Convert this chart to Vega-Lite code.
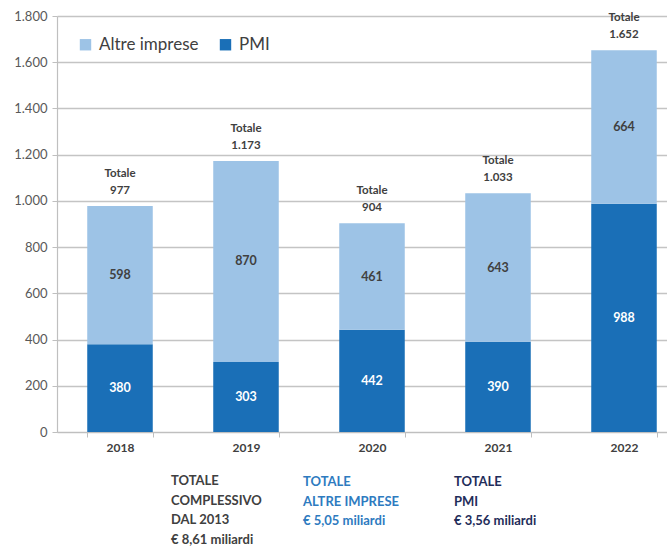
{
  "$schema": "https://vega.github.io/schema/vega-lite/v6.json",
  "autosize": {"type": "none"},
  "padding": {"left": 57, "top": 16, "right": 0, "bottom": 114},
  "width": 610,
  "height": 416,
  "background": "white",
  "config": {
    "view": {"stroke": null},
    "font": "Lato",
    "locale": {"number": {"decimal": ",", "thousands": ".", "grouping": [3], "currency": ["€", ""]}}
  },
  "datasets": {
    "segmenti": [
      {"anno": "2018", "tipo": "PMI", "v": 380},
      {"anno": "2018", "tipo": "Altre imprese", "v": 598},
      {"anno": "2019", "tipo": "PMI", "v": 303},
      {"anno": "2019", "tipo": "Altre imprese", "v": 870},
      {"anno": "2020", "tipo": "PMI", "v": 442},
      {"anno": "2020", "tipo": "Altre imprese", "v": 461},
      {"anno": "2021", "tipo": "PMI", "v": 390},
      {"anno": "2021", "tipo": "Altre imprese", "v": 643},
      {"anno": "2022", "tipo": "PMI", "v": 988},
      {"anno": "2022", "tipo": "Altre imprese", "v": 664}
    ],
    "totali": [
      {"anno": "2018", "tot": 977},
      {"anno": "2019", "tot": 1173},
      {"anno": "2020", "tot": 904},
      {"anno": "2021", "tot": 1033},
      {"anno": "2022", "tot": 1652}
    ],
    "nota1": [{"anno": "2019", "righe": ["TOTALE", "COMPLESSIVO", "DAL 2013", "€ 8,61 miliardi"]}],
    "nota2": [{"anno": "2020", "righe": ["TOTALE", "ALTRE IMPRESE", "€ 5,05 miliardi"]}],
    "nota3": [{"anno": "2021", "righe": ["TOTALE", "PMI", "€ 3,56 miliardi"]}]
  },
  "encoding": {
    "x": {
      "field": "anno",
      "type": "nominal",
      "scale": {"range": [0, 630], "paddingInner": 0.48, "paddingOuter": 0.24},
      "axis": {
        "title": null,
        "labelAngle": 0,
        "tickBand": "extent",
        "tickSize": 5,
        "tickColor": "#bfbfbf",
        "domainColor": "#bfbfbf",
        "domainWidth": 1.2,
        "labelFont": "Lato",
        "labelFontSize": 12,
        "labelFontWeight": "bold",
        "labelColor": "#404040",
        "labelPadding": 5
      }
    }
  },
  "layer": [
    {
      "data": {"name": "segmenti"},
      "mark": {"type": "bar"},
      "encoding": {
        "y": {
          "field": "v",
          "type": "quantitative",
          "stack": "zero",
          "scale": {"domain": [0, 1800], "nice": false},
          "axis": {
            "title": null,
            "values": [0, 200, 400, 600, 800, 1000, 1200, 1400, 1600, 1800],
            "format": ",.0f",
            "grid": true,
            "gridColor": "#c4c4c4",
            "gridWidth": 1.3,
            "tickSize": 5,
            "tickColor": "#bfbfbf",
            "domainColor": "#bfbfbf",
            "domainWidth": 1.2,
            "labelFont": "Lato",
            "labelFontSize": 13,
            "labelColor": "#595959",
            "labelPadding": 5
          }
        },
        "color": {
          "field": "tipo",
          "type": "nominal",
          "scale": {"domain": ["Altre imprese", "PMI"], "range": ["#9dc3e6", "#1a6fb7"]},
          "legend": {
            "title": null,
            "orient": "none",
            "legendX": 20,
            "legendY": 20,
            "direction": "horizontal",
            "symbolType": "square",
            "symbolSize": 130,
            "symbolStrokeWidth": 0,
            "labelFont": "Lato",
            "labelFontSize": 17,
            "labelColor": "#404040",
            "labelOffset": 5,
            "columnPadding": 18
          }
        },
        "order": {"field": "tipo", "sort": "descending"}
      }
    },
    {
      "data": {"name": "segmenti"},
      "transform": [
        {"stack": "v", "groupby": ["anno"], "sort": [{"field": "tipo", "order": "descending"}], "as": ["s0", "s1"]},
        {"fold": ["s0", "s1"], "as": ["k", "pos"]},
        {"aggregate": [{"op": "mean", "field": "pos", "as": "mid"}], "groupby": ["anno", "tipo", "v"]}
      ],
      "mark": {"type": "text", "font": "Lato", "fontSize": 12.5, "fontWeight": "bold", "baseline": "middle"},
      "encoding": {
        "y": {"field": "mid", "type": "quantitative"},
        "text": {"field": "v", "type": "quantitative", "format": ",.0f"},
        "color": {"condition": {"test": "datum.tipo === 'PMI'", "value": "#ffffff"}, "value": "#404040"}
      }
    },
    {
      "data": {"name": "totali"},
      "mark": {"type": "text", "font": "Lato", "fontSize": 11.5, "fontWeight": "bold", "baseline": "bottom", "dy": -27, "color": "#404040"},
      "encoding": {
        "y": {"field": "tot", "type": "quantitative"},
        "text": {"value": "Totale"}
      }
    },
    {
      "data": {"name": "totali"},
      "mark": {"type": "text", "font": "Lato", "fontSize": 11.5, "fontWeight": "bold", "baseline": "bottom", "dy": -10, "color": "#404040"},
      "encoding": {
        "y": {"field": "tot", "type": "quantitative"},
        "text": {"field": "tot", "type": "quantitative", "format": ",.0f"}
      }
    },
    {
      "data": {"name": "nota1"},
      "mark": {"type": "text", "font": "Lato", "fontSize": 13, "fontWeight": "bold", "align": "left", "baseline": "top", "lineHeight": 19.5, "dx": -75, "dy": 43, "color": "#404040"},
      "encoding": {
        "y": {"datum": 0},
        "text": {"field": "righe"}
      }
    },
    {
      "data": {"name": "nota2"},
      "mark": {"type": "text", "font": "Lato", "fontSize": 13, "fontWeight": "bold", "align": "left", "baseline": "top", "lineHeight": 19.5, "dx": -69, "dy": 44, "color": "#2e7bbf"},
      "encoding": {
        "y": {"datum": 0},
        "text": {"field": "righe"}
      }
    },
    {
      "data": {"name": "nota3"},
      "mark": {"type": "text", "font": "Lato", "fontSize": 13, "fontWeight": "bold", "align": "left", "baseline": "top", "lineHeight": 19.5, "dx": -44, "dy": 44, "color": "#1f2d5a"},
      "encoding": {
        "y": {"datum": 0},
        "text": {"field": "righe"}
      }
    }
  ]
}
